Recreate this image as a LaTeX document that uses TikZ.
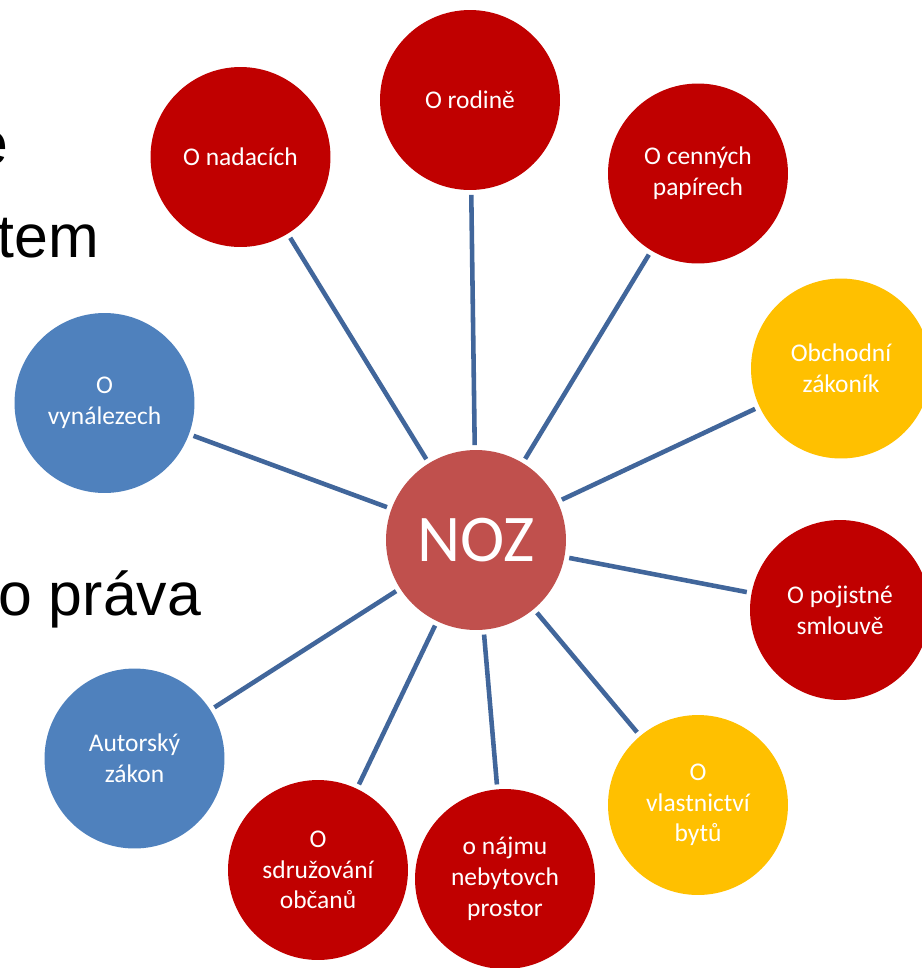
\documentclass[tikz,border=0pt]{standalone}
\usepackage{fontspec}
\setmainfont{Carlito}
\newfontfamily\slidefont{Liberation Sans}
\usepackage{tikz}
\usetikzlibrary{positioning}
\usepackage{xcolor}
\definecolor{lawred}{HTML}{C00000}
\definecolor{lawyellow}{HTML}{FFC000}
\definecolor{lawblue}{HTML}{4F81BD}
\definecolor{nozred}{HTML}{C0504D}
\definecolor{linkblue}{HTML}{41669B}

\begin{document}
\begin{tikzpicture}[
    x=0.02cm, y=-0.02cm,
    law node/.style={circle, minimum size=3.6cm, inner sep=0pt, outer sep=2.8pt,
        text=white, align=center, font=\fontsize{14.5}{17.5}\selectfont},
    red law/.style={law node, fill=lawred},
    yellow law/.style={law node, fill=lawyellow},
    blue law/.style={law node, fill=lawblue},
    main node/.style={circle, fill=nozred, text=white, minimum size=3.6cm,
        inner sep=0pt, outer sep=2.8pt, font=\fontsize{38}{40}\selectfont},
    link/.style={linkblue, line width=2.6pt},
    slide text/.style={font=\slidefont\fontsize{34.6}{40}\selectfont, inner sep=0pt}
]
\clip (0,0) rectangle (922,968);
\fill[white] (0,0) rectangle (922,968);

% Slide text behind the diagram
\node[slide text, anchor=base west] (t1) at (-26,164) {e};
\node[slide text, anchor=base west] (t2) at (-3,257) {tem};
\node[slide text, anchor=base west] (t3) at (-2,615) {o práva};

% Main Node
\node[main node] (noz) at (476,540) {NOZ};

% Laws around it
\node[red law] (rodina) at (470,100) {O rodině};
\node[red law] (nadace) at (240.5,157) {O nadacích};
\node[red law] (papiry) at (698,173.5) {O cenných\\papírech};
\node[yellow law] (obchod) at (841,368.5) {Obchodní\\zákoník};
\node[red law] (pojist) at (840,610) {O pojistné\\smlouvě};
\node[yellow law] (byty) at (698,805) {O\\vlastnictví\\bytů};
\node[red law] (najem) at (505,879) {o nájmu\\nebytovch\\prostor};
\node[red law] (sdruz) at (318,870) {O\\sdružování\\občanů};
\node[blue law] (autor) at (134.5,758.5) {Autorský\\zákon};
\node[blue law] (vynal) at (104.5,403) {O\\vynálezech};

% Links
\draw[link] (noz) -- (rodina);
\draw[link] (noz) -- (nadace);
\draw[link] (noz) -- (papiry);
\draw[link] (noz) -- (obchod);
\draw[link] (noz) -- (pojist);
\draw[link] (noz) -- (byty);
\draw[link] (noz) -- (najem);
\draw[link] (noz) -- (sdruz);
\draw[link] (noz) -- (autor);
\draw[link] (noz) -- (vynal);
\end{tikzpicture}
\end{document}
